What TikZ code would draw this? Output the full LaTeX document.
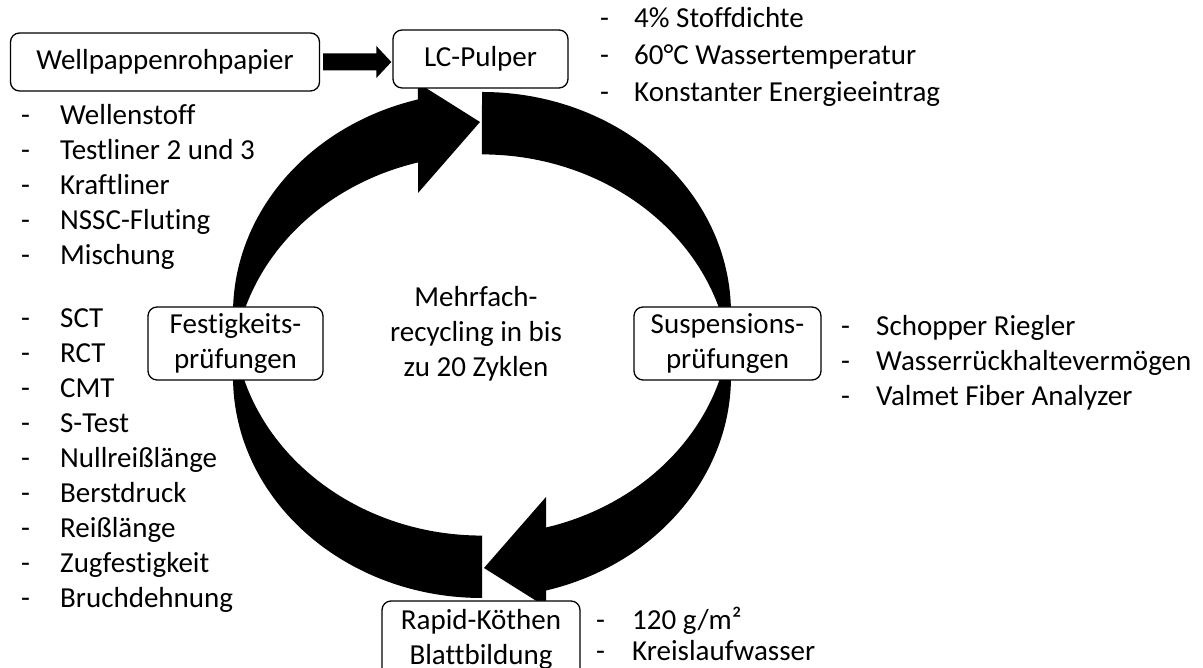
\documentclass[tikz,border=0pt]{standalone}
\usepackage{fontspec}
\setmainfont{Carlito}[Ligatures=NoCommon]
\usetikzlibrary{calc}

% [#1 line step], #2 name, #3 dash x, #4 text x, #5 first baseline, #6 items
\newcommand\dashlist[6][35]{%
  \foreach \t [count=\k from 0] in {#6}{%
    \node[listdash] (#2-d\k) at (#3,#5-#1*\k) {-};
    \node[listtext] (#2-\k) at (#4,#5-#1*\k) {\t};
  }}

\begin{document}
\begin{tikzpicture}[x=1pt,y=1pt,
  font=\fontsize{29}{35}\selectfont,
  box/.style={draw=black, line width=1.3pt, rounded corners=9pt, fill=white,
    align=center, inner sep=0pt},
  listdash/.style={anchor=base west, inner sep=0pt},
  listtext/.style={anchor=base west, inner sep=0pt},
  ring/.style={x radius=249, y radius=221.5},
  % half of the recycling loop: tail at the bottom, head at the top
  cyclearrow/.pic={
    \fill[black] (0,-253) arc[start angle=270, end angle=180, ring]
      -- (-249,31.5) arc[start angle=180, end angle=104.9, ring]
      -- (-64,262) -- (-2,223) -- (-64,152) -- (-64,182.55)
      arc[start angle=104.9, end angle=171.9, ring]
      arc[start angle=188.1, end angle=270, ring]
      -- cycle;
  }
]
\useasboundingbox (0,0) rectangle (1203,668);
\clip (0,0) rectangle (1203,668);

% recycling loop
\pic at (482,323) {cyclearrow};
\pic[rotate=180] at (482,323) {cyclearrow};

% process steps
\node[box, minimum width=309pt, minimum height=58pt] (raw) at (165,606) {Wellpappenrohpapier};
\node[box, minimum width=175pt, minimum height=58pt] (pulper) at (480.5,609) {LC-Pulper};
\node[box, minimum width=175pt, minimum height=73pt] (strength) at (235.5,324.5) {Festigkeits-\\prüfungen};
\node[box, minimum width=187pt, minimum height=73pt] (susp) at (727.5,324.5) {Suspensions-\\prüfungen};
\node[box, minimum width=198pt, minimum height=76pt] (sheet) at (481,29) {Rapid-Köthen\\Blattbildung};

\node[align=center, inner sep=0pt] (loop) at (476,334) {Mehrfach-\\recycling in bis\\zu 20 Zyklen};

% feed arrow into the pulper
\coordinate (tip) at ($(pulper.west |- raw.east)+(-1,0)$);
\fill[black] ($(raw.east)+(3,8.5)$) -- ($(tip)+(-15,8.5)$) -- ($(tip)+(-15,16)$)
  -- (tip) -- ($(tip)+(-15,-16)$) -- ($(tip)+(-15,-8.5)$) -- ($(raw.east)+(3,-8.5)$) -- cycle;

% parameter lists
\dashlist{paper}{21}{60}{543}{Wellenstoff,Testliner 2 und 3,Kraftliner,NSSC-Fluting,Mischung}
\dashlist{tests}{21}{60}{340}{SCT,RCT,CMT,S-Test,Nullreißlänge,Berstdruck,Reißlänge,Zugfestigkeit,Bruchdehnung}
\dashlist[37]{pulp}{600}{634}{640}{4\% Stoffdichte,60°C Wassertemperatur,Konstanter Energieeintrag}
\dashlist{susp}{841}{876}{332}{Schopper Riegler,Wasserrückhaltevermögen,Valmet Fiber Analyzer}
\dashlist[31]{sheet}{596}{632}{38}{120 g/m²,Kreislaufwasser}
\end{tikzpicture}
\end{document}
